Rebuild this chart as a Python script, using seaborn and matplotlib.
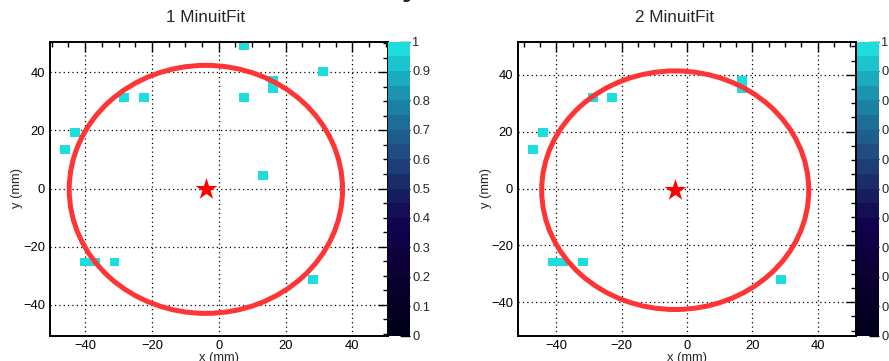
import matplotlib
matplotlib.use("Agg")
import numpy as np
import matplotlib.pyplot as plt
from matplotlib.colors import LinearSegmentedColormap, ListedColormap
from matplotlib.patches import Ellipse
from matplotlib.ticker import MultipleLocator
import seaborn as sns

sns.set_style("white")
plt.rcParams["font.family"] = ["Liberation Sans", "DejaVu Sans"]

# hit positions (mm) used by each fit
fit1_x = [-46.0, -43.1, -28.2, -22.3, -40.1, -37.1, -31.2, 7.4, 7.4, 16.3, 16.3, 31.2, 13.4, 28.2]
fit1_y = [13.4, 19.3, 31.2, 31.2, -25.2, -25.2, -25.2, 49.0, 31.2, 34.2, 37.1, 40.1, 4.5, -31.2]
fit2_x = [-47.1, -44.1, -28.9, -22.8, -41.1, -38.0, -31.9, 16.7, 16.7, 28.9]
fit2_y = [13.7, 19.7, 31.9, 31.9, -25.85, -25.85, -25.85, 35.0, 38.0, -31.9]

# histogram half-range (mm) for each fit
fit_ranges = [50.5, 51.7]
n_bins = 34

# fitted centre and radii (mm)
fit_centers = [(-3.85, -0.3), (-3.6, -0.6)]
fit_radii = [(40.9, 42.6), (40.85, 41.95)]

titles = ["1 MinuitFit", "2 MinuitFit"]
axis_ticks = [-40, -20, 0, 20, 40]
cbar_ticks = [0, 0.1, 0.2, 0.3, 0.4, 0.5, 0.6, 0.7, 0.8, 0.9, 1]

# deep-sea palette, 20 contour levels
ds_r = [0, 9, 13, 17, 24, 32, 27, 25, 29]
ds_g = [0, 0, 0, 2, 37, 74, 113, 160, 221]
ds_b = [28, 42, 59, 78, 98, 129, 154, 184, 221]
stops = np.linspace(0, 1, len(ds_r))
smooth = LinearSegmentedColormap.from_list(
    "deepsea",
    [(s, (r / 255, g / 255, b / 255)) for s, r, g, b in zip(stops, ds_r, ds_g, ds_b)],
)
deepsea = ListedColormap(smooth(np.linspace(0, 1, 20)))

W, H = 889, 361
fig = plt.figure(figsize=(W / 100, H / 100), dpi=100)


def px_rect(x0, y0, x1, y1):
    return [x0 / W, 1 - y1 / H, (x1 - x0) / W, (y1 - y0) / H]


panels = [
    dict(ax=px_rect(50, 41.5, 387.5, 335.5), cax=px_rect(388, 41.5, 410, 335.5),
         title_x=205.5, ylab_x=-0.080),
    dict(ax=px_rect(518, 41.5, 856, 335.5), cax=px_rect(857, 41.5, 879, 335.5),
         title_x=675, ylab_x=-0.077),
]
data = [(fit1_x, fit1_y), (fit2_x, fit2_y)]

for i, p in enumerate(panels):
    ax = fig.add_axes(p["ax"])
    cax = fig.add_axes(p["cax"])
    xs, ys = data[i]
    lim = fit_ranges[i]

    sns.histplot(x=xs, y=ys, bins=n_bins, binrange=((-lim, lim), (-lim, lim)),
                 cmap=deepsea, vmin=0, vmax=1, cbar=True, cbar_ax=cax, ax=ax)

    cx, cy = fit_centers[i]
    rx, ry = fit_radii[i]
    ax.add_patch(Ellipse((cx, cy), 2 * rx, 2 * ry, fill=False,
                         edgecolor="#ff3535", linewidth=3.6, zorder=4))
    sns.scatterplot(x=[cx], y=[cy], marker="*", s=270, color="#ff0000",
                    linewidth=0, ax=ax, zorder=5)

    ax.set_xlim(-lim, lim)
    ax.set_ylim(-lim, lim)
    ax.set_xticks(axis_ticks)
    ax.set_yticks(axis_ticks)
    ax.xaxis.set_minor_locator(MultipleLocator(5))
    ax.yaxis.set_minor_locator(MultipleLocator(5))
    ax.set_axisbelow(True)
    ax.grid(True, which="major", color="black", linestyle=(0, (1, 2.5)), linewidth=0.9)
    ax.tick_params(which="both", direction="in", top=True, right=True,
                   labelsize=9.3, color="black", labelcolor="black", pad=3.5)
    ax.tick_params(which="major", length=7, width=1)
    ax.tick_params(which="minor", length=3.6, width=1)
    for s in ax.spines.values():
        s.set_color("black")
        s.set_linewidth(1.4)

    ax.set_xlabel("x (mm)", fontsize=9.3)
    ax.set_ylabel("y (mm)", fontsize=9.3)
    ax.xaxis.set_label_coords(0.5, -0.055)
    ax.yaxis.set_label_coords(p["ylab_x"], 0.5)

    fig.text(p["title_x"] / W, 1 - 18 / H, titles[i], ha="center", va="center",
             fontsize=12.3)

    cbar = ax.collections[0].colorbar
    cbar.outline.set_visible(False)
    cbar.set_ticks(cbar_ticks)
    cbar.set_ticklabels([f"{t:g}" for t in cbar_ticks])
    cax.yaxis.set_minor_locator(plt.NullLocator())
    cax.tick_params(direction="in", length=7.2, width=1, color="black",
                    labelsize=9.3, pad=1.5)

# heading above the canvas
fig.text(410 / W, 1 + 5 / H, "y", ha="center", va="baseline", fontsize=22,
         fontweight="bold")

fig.savefig("out.png", dpi=100)
